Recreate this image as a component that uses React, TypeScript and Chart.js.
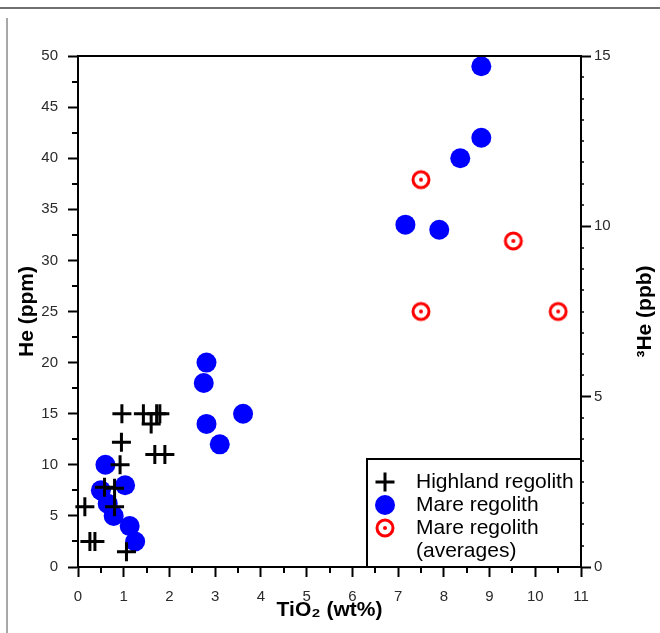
import React, { useEffect, useRef } from 'react';
import { Chart, registerables } from 'chart.js';

Chart.register(...registerables);

// ---- data ----
const highlandTiO2 = [0.96, 1.43, 1.6, 1.72, 1.79, 0.95, 0.92, 1.68, 1.9, 0.58, 0.8, 0.8, 0.15, 0.26, 0.37, 1.06];
const highlandHe = [15, 15, 14, 15, 15, 12.2, 10, 11, 11, 7.8, 7.7, 5.9, 5.9, 2.5, 2.5, 1.5];

const mareTiO2 = [0.6, 1.03, 0.5, 0.65, 0.78, 1.13, 1.25, 2.81, 2.75, 2.81, 3.1, 3.61, 7.16, 7.9, 8.36, 8.82, 8.82];
const mareHe = [10, 8, 7.5, 6.2, 5.0, 4.0, 2.5, 20, 18, 14, 12, 15, 33.5, 33, 40, 42, 49];

const avgTiO2 = [7.5, 9.52, 7.5, 10.5];
const avgHe = [37.9, 31.9, 25, 25];

const seriesLabels: (string | string[])[] = ['Highland regolith', 'Mare regolith', ['Mare regolith', '(averages)']];

const xTitle = 'TiO₂ (wt%)';
const yTitle = 'He (ppm)';
const y2Title = '³He (ppb)';

const xMin = 0, xMax = 11, xStep = 1;
const yMin = 0, yMax = 50, yStep = 5;
const y2Min = 0, y2Max = 15, y2Step = 5;

const FONT = '"Liberation Sans", Arial, Helvetica, sans-serif';

const toPts = (xs: number[], ys: number[]) => xs.map((x, i) => ({ x, y: ys[i] }));

export default function App() {
  const ref = useRef<HTMLCanvasElement>(null);

  useEffect(() => {
    const canvas = ref.current!;

    // ring-with-dot marker
    const ring = document.createElement('canvas');
    ring.width = 24;
    ring.height = 24;
    const rc = ring.getContext('2d')!;
    rc.strokeStyle = '#ff0000';
    rc.lineWidth = 3;
    rc.beginPath();
    rc.arc(12, 12, 8, 0, Math.PI * 2);
    rc.stroke();
    rc.fillStyle = '#ff0000';
    rc.beginPath();
    rc.arc(12, 12, 2, 0, Math.PI * 2);
    rc.fill();

    const framePlugin = {
      id: 'frameMinor',
      afterDraw(chart: any) {
        const ctx = chart.ctx;
        const { left, right, top, bottom } = chart.chartArea;
        const sx = chart.scales.x, sy = chart.scales.y, sy2 = chart.scales.y2;
        ctx.save();
        ctx.strokeStyle = '#000';
        ctx.lineWidth = 2;
        ctx.beginPath();
        ctx.moveTo(left - 1, top);
        ctx.lineTo(right + 1, top);
        ctx.stroke();
        // minor ticks
        ctx.beginPath();
        for (let v = xMin + xStep / 2; v < xMax; v += xStep) {
          const p = Math.round(sx.getPixelForValue(v));
          ctx.moveTo(p, bottom);
          ctx.lineTo(p, bottom + 6);
        }
        for (let v = yMin + yStep / 2; v < yMax; v += yStep) {
          const p = Math.round(sy.getPixelForValue(v));
          ctx.moveTo(left - 6, p);
          ctx.lineTo(left, p);
        }
        ctx.stroke();
        ctx.lineWidth = 1.5;
        ctx.beginPath();
        const sub = y2Step / 8;
        for (let k = 1; k * sub < y2Max; k++) {
          if (k % 8 === 0) continue;
          const p = Math.round(sy2.getPixelForValue(k * sub));
          ctx.moveTo(right, p);
          ctx.lineTo(right + 3, p);
        }
        ctx.stroke();

        // right axis title, reading bottom-to-top
        ctx.fillStyle = '#000';
        ctx.font = `bold 21px ${FONT}`;
        ctx.textAlign = 'center';
        ctx.textBaseline = 'middle';
        ctx.translate(645, (top + bottom) / 2);
        ctx.rotate(-Math.PI / 2);
        ctx.fillText(y2Title, 0, 0);
        ctx.restore();
      },
    };

    const legendPlugin = {
      id: 'boxLegend',
      afterDraw(chart: any) {
        const ctx = chart.ctx;
        const { right, bottom } = chart.chartArea;
        const w = 214, h = 108;
        const bx = right - w, by = bottom - h;
        ctx.save();
        ctx.fillStyle = '#fff';
        ctx.fillRect(bx, by, w, h);
        ctx.strokeStyle = '#000';
        ctx.lineWidth = 2;
        ctx.strokeRect(bx, by, w, h);
        ctx.font = `21px ${FONT}`;
        ctx.textAlign = 'left';
        ctx.textBaseline = 'middle';
        let line = 0;
        chart.data.datasets.forEach((ds: any) => {
          const cy = by + 23 + line * 23;
          const cx = bx + 18;
          const st = ds.pointStyle;
          if (st === 'cross') {
            const r = ds.pointRadius;
            ctx.strokeStyle = ds.pointBorderColor;
            ctx.lineWidth = ds.pointBorderWidth;
            ctx.beginPath();
            ctx.moveTo(cx - r, cy);
            ctx.lineTo(cx + r, cy);
            ctx.moveTo(cx, cy - r);
            ctx.lineTo(cx, cy + r);
            ctx.stroke();
          } else if (st === 'circle') {
            ctx.fillStyle = ds.pointBackgroundColor;
            ctx.beginPath();
            ctx.arc(cx, cy, ds.pointRadius, 0, Math.PI * 2);
            ctx.fill();
          } else if (st && st.width) {
            ctx.drawImage(st, cx - st.width / 2, cy - st.height / 2);
          }
          const lines = Array.isArray(ds.label) ? ds.label : [ds.label];
          ctx.fillStyle = '#000';
          lines.forEach((t: string) => {
            ctx.fillText(t, bx + 49, by + 23 + line * 23);
            line++;
          });
        });
        ctx.restore();
      },
    };

    const tickFont = { family: FONT, size: 15 };
    const titleFont = { family: FONT, size: 21, weight: 'bold' as const };

    const chart = new Chart(canvas, {
      type: 'scatter',
      data: {
        datasets: [
          {
            label: seriesLabels[0] as any,
            data: toPts(highlandTiO2, highlandHe),
            pointStyle: 'cross',
            pointRadius: 9.5,
            pointBorderColor: '#000',
            pointBackgroundColor: '#000',
            pointBorderWidth: 3,
            clip: false as any,
          },
          {
            label: seriesLabels[1] as any,
            data: toPts(mareTiO2, mareHe),
            pointStyle: 'circle',
            pointRadius: 10,
            pointBackgroundColor: '#0000ff',
            pointBorderColor: '#0000ff',
            pointBorderWidth: 0,
            clip: false as any,
          },
          {
            label: seriesLabels[2] as any,
            data: toPts(avgTiO2, avgHe),
            pointStyle: ring as any,
            pointRadius: 9,
            pointBackgroundColor: '#ff0000',
            pointBorderColor: '#ff0000',
            clip: false as any,
          },
        ],
      },
      options: {
        responsive: false,
        animation: false,
        events: [],
        layout: { padding: { left: 0, right: 0, top: 56, bottom: 0 } },
        plugins: { legend: { display: false }, tooltip: { enabled: false } },
        scales: {
          x: {
            type: 'linear',
            position: 'bottom',
            min: xMin,
            max: xMax,
            afterFit: (s: any) => { s.height = 66; },
            ticks: { stepSize: xStep, font: tickFont, color: '#2a2a2a', padding: 11, maxRotation: 0 },
            grid: { drawOnChartArea: false, drawTicks: true, tickLength: 10, tickColor: '#000', tickWidth: 2 },
            border: { display: true, color: '#000', width: 2 },
            title: { display: true, text: xTitle, font: titleFont, color: '#000', padding: { top: 0, bottom: 10 } },
          },
          y: {
            type: 'linear',
            position: 'left',
            min: yMin,
            max: yMax,
            afterFit: (s: any) => { s.width = 78; },
            ticks: { stepSize: yStep, font: tickFont, color: '#2a2a2a', padding: 10 },
            grid: { drawOnChartArea: false, drawTicks: true, tickLength: 10, tickColor: '#000', tickWidth: 2 },
            border: { display: true, color: '#000', width: 2 },
            title: { display: true, text: yTitle, font: titleFont, color: '#000', padding: { top: 15, bottom: 0 } },
          },
          y2: {
            type: 'linear',
            position: 'right',
            min: y2Min,
            max: y2Max,
            afterFit: (s: any) => { s.width = 79; },
            ticks: { stepSize: y2Step, font: tickFont, color: '#2a2a2a', padding: 3 },
            grid: { drawOnChartArea: false, drawTicks: true, tickLength: 10, tickColor: '#000', tickWidth: 2 },
            border: { display: true, color: '#000', width: 2 },
            title: { display: false },
          },
        },
      },
      plugins: [framePlugin, legendPlugin],
    });

    return () => chart.destroy();
  }, []);

  return (
    <div style={{ position: 'fixed', left: 0, top: 0, width: 660, height: 633, background: '#fff', overflow: 'hidden' }}>
      <div style={{ position: 'absolute', left: 0, top: 7, width: 660, height: 2, background: '#707070' }} />
      <div style={{ position: 'absolute', left: 6, top: 18, width: 2, height: 615, background: '#a8a8a8' }} />
      <canvas ref={ref} width={660} height={633} style={{ position: 'absolute', left: 0, top: 0, width: 660, height: 633 }} />
    </div>
  );
}
